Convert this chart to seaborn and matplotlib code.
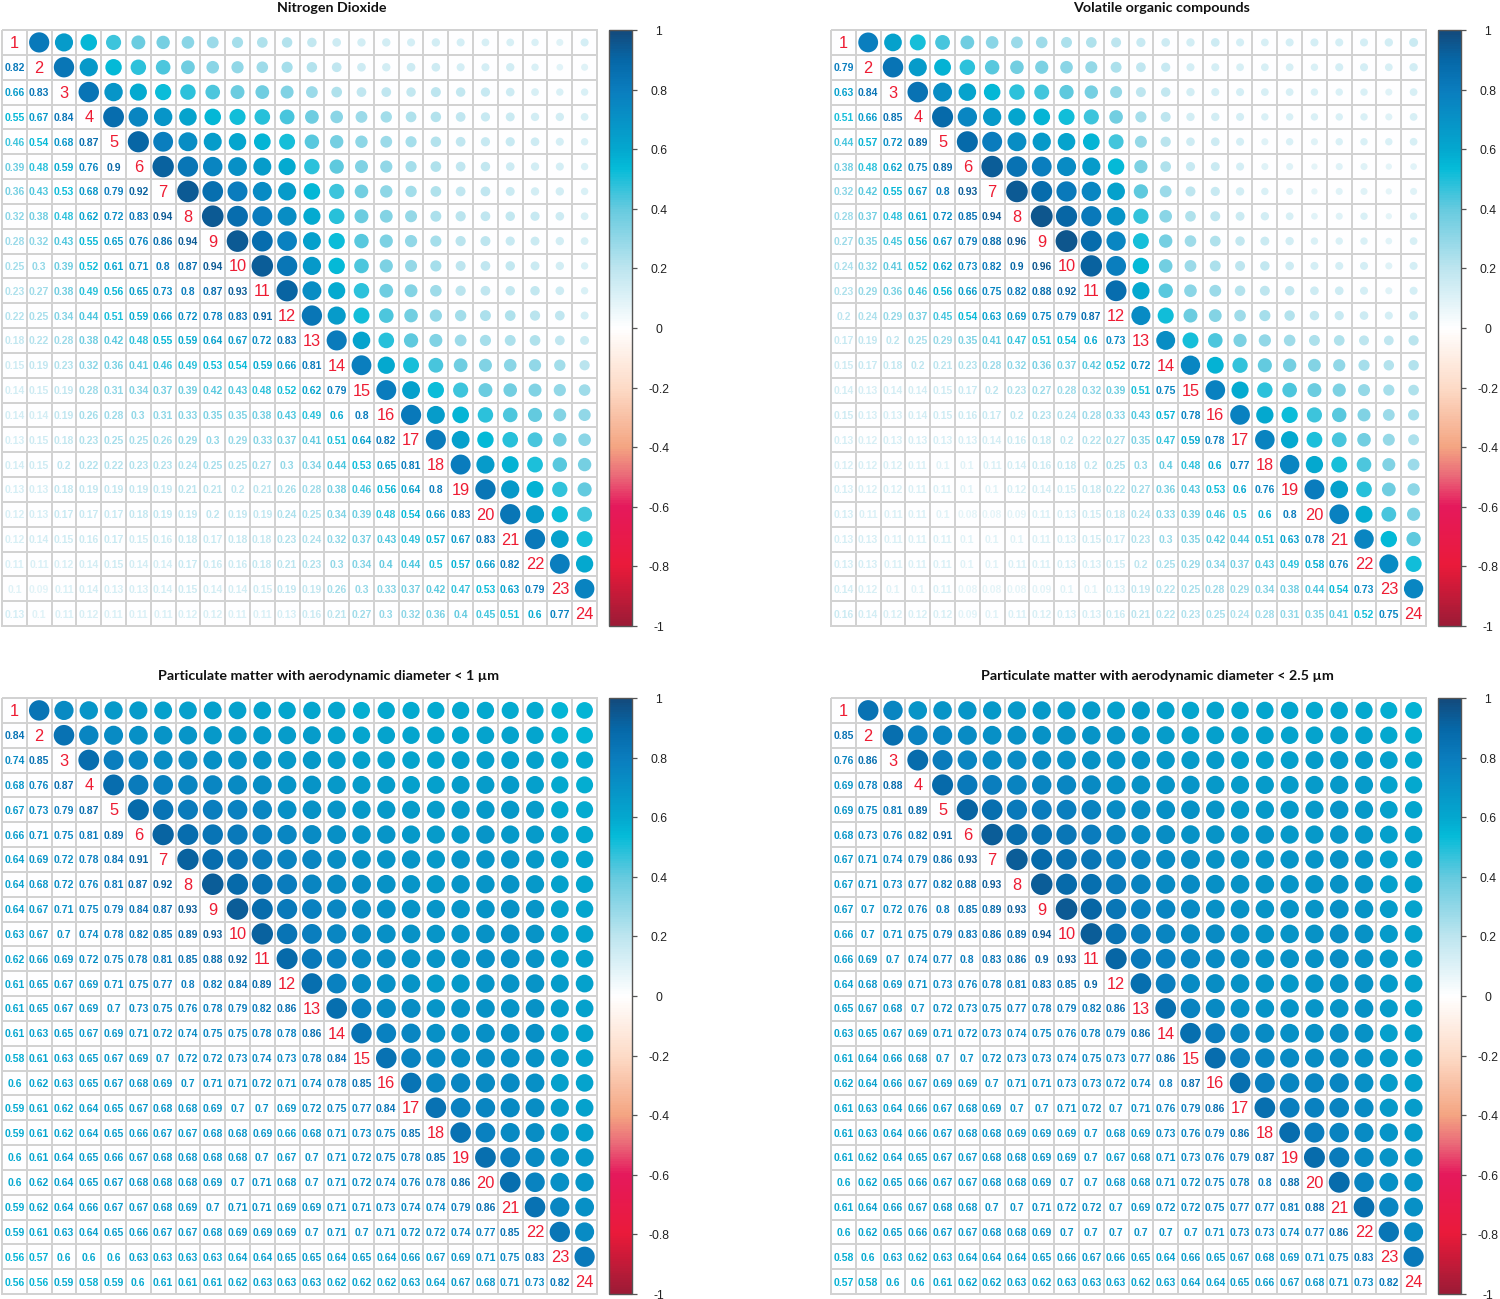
import numpy as np
import pandas as pd
import seaborn as sns
import matplotlib.pyplot as plt
from matplotlib.colors import LinearSegmentedColormap
from matplotlib.transforms import ScaledTranslation

titles = ['Nitrogen Dioxide', 'Volatile organic compounds',
          'Particulate matter with aerodynamic diameter < 1 µm',
          'Particulate matter with aerodynamic diameter < 2.5 µm']
cbar_ticks = [-1, -0.8, -0.6, -0.4, -0.2, 0, 0.2, 0.4, 0.6, 0.8, 1]

# lower triangles, one row per line (row 2 to row 24)
no2 = [
    [.82],
    [.66, .83],
    [.55, .67, .84],
    [.46, .54, .68, .87],
    [.39, .48, .59, .76, .9],
    [.36, .43, .53, .68, .79, .92],
    [.32, .38, .48, .62, .72, .83, .94],
    [.28, .32, .43, .55, .65, .76, .86, .94],
    [.25, .3, .39, .52, .61, .71, .8, .87, .94],
    [.23, .27, .38, .49, .56, .65, .73, .8, .87, .93],
    [.22, .25, .34, .44, .51, .59, .66, .72, .78, .83, .91],
    [.18, .22, .28, .38, .42, .48, .55, .59, .64, .67, .72, .83],
    [.15, .19, .23, .32, .36, .41, .46, .49, .53, .54, .59, .66, .81],
    [.14, .15, .19, .28, .31, .34, .37, .39, .42, .43, .48, .52, .62, .79],
    [.14, .14, .19, .26, .28, .3, .31, .33, .35, .35, .38, .43, .49, .6, .8],
    [.13, .15, .18, .23, .25, .25, .26, .29, .3, .29, .33, .37, .41, .51, .64, .82],
    [.14, .15, .2, .22, .22, .23, .23, .24, .25, .25, .27, .3, .34, .44, .53, .65, .81],
    [.13, .13, .18, .19, .19, .19, .19, .21, .21, .2, .21, .26, .28, .38, .46, .56, .64, .8],
    [.12, .13, .17, .17, .17, .18, .19, .19, .2, .19, .19, .24, .25, .34, .39, .48, .54, .66, .83],
    [.12, .14, .15, .16, .17, .15, .16, .18, .17, .18, .18, .23, .24, .32, .37, .43, .49, .57, .67, .83],
    [.11, .11, .12, .14, .15, .14, .14, .17, .16, .16, .18, .21, .23, .3, .34, .4, .44, .5, .57, .66, .82],
    [.1, .09, .11, .14, .13, .13, .14, .15, .14, .14, .15, .19, .19, .26, .3, .33, .37, .42, .47, .53, .63, .79],
    [.13, .1, .11, .12, .11, .11, .11, .12, .12, .11, .11, .13, .16, .21, .27, .3, .32, .36, .4, .45, .51, .6, .77],
]
voc = [
    [.79],
    [.63, .84],
    [.51, .66, .85],
    [.44, .57, .72, .89],
    [.38, .48, .62, .75, .89],
    [.32, .42, .55, .67, .8, .93],
    [.28, .37, .48, .61, .72, .85, .94],
    [.27, .35, .45, .56, .67, .79, .88, .96],
    [.24, .32, .41, .52, .62, .73, .82, .9, .96],
    [.23, .29, .36, .46, .56, .66, .75, .82, .88, .92],
    [.2, .24, .29, .37, .45, .54, .63, .69, .75, .79, .87],
    [.17, .19, .2, .25, .29, .35, .41, .47, .51, .54, .6, .73],
    [.15, .17, .18, .2, .21, .23, .28, .32, .36, .37, .42, .52, .72],
    [.14, .13, .14, .14, .15, .17, .2, .23, .27, .28, .32, .39, .51, .75],
    [.15, .13, .13, .14, .15, .16, .17, .2, .23, .24, .28, .33, .43, .57, .78],
    [.13, .12, .13, .13, .13, .13, .14, .16, .18, .2, .22, .27, .35, .47, .59, .78],
    [.12, .12, .12, .11, .1, .1, .11, .14, .16, .18, .2, .25, .3, .4, .48, .6, .77],
    [.13, .12, .12, .11, .11, .1, .1, .12, .14, .15, .18, .22, .27, .36, .43, .53, .6, .76],
    [.13, .11, .11, .11, .1, .08, .08, .09, .11, .13, .15, .18, .24, .33, .39, .46, .5, .6, .8],
    [.13, .13, .11, .11, .11, .1, .1, .1, .11, .13, .15, .17, .23, .3, .35, .42, .44, .51, .63, .78],
    [.13, .13, .11, .11, .11, .1, .1, .11, .11, .13, .13, .15, .2, .25, .29, .34, .37, .43, .49, .58, .76],
    [.14, .12, .1, .1, .11, .08, .08, .08, .09, .1, .1, .13, .19, .22, .25, .28, .29, .34, .38, .44, .54, .73],
    [.16, .14, .12, .12, .12, .09, .1, .11, .12, .13, .13, .16, .21, .22, .23, .25, .24, .28, .31, .35, .41, .52, .75],
]
pm1 = [
    [.84],
    [.74, .85],
    [.68, .76, .87],
    [.67, .73, .79, .87],
    [.66, .71, .75, .81, .89],
    [.64, .69, .72, .78, .84, .91],
    [.64, .68, .72, .76, .81, .87, .92],
    [.64, .67, .71, .75, .79, .84, .87, .93],
    [.63, .67, .7, .74, .78, .82, .85, .89, .93],
    [.62, .66, .69, .72, .75, .78, .81, .85, .88, .92],
    [.61, .65, .67, .69, .71, .75, .77, .8, .82, .84, .89],
    [.61, .65, .67, .69, .7, .73, .75, .76, .78, .79, .82, .86],
    [.61, .63, .65, .67, .69, .71, .72, .74, .75, .75, .78, .78, .86],
    [.58, .61, .63, .65, .67, .69, .7, .72, .72, .73, .74, .73, .78, .84],
    [.6, .62, .63, .65, .67, .68, .69, .7, .71, .71, .72, .71, .74, .78, .85],
    [.59, .61, .62, .64, .65, .67, .68, .68, .69, .7, .7, .69, .72, .75, .77, .84],
    [.59, .61, .62, .64, .65, .66, .67, .67, .68, .68, .69, .66, .68, .71, .73, .75, .85],
    [.6, .61, .64, .65, .66, .67, .68, .68, .68, .68, .7, .67, .7, .71, .72, .75, .78, .85],
    [.6, .62, .64, .65, .67, .68, .68, .68, .69, .7, .71, .68, .7, .71, .72, .74, .76, .78, .86],
    [.59, .62, .64, .66, .67, .67, .68, .69, .7, .71, .71, .69, .69, .71, .71, .73, .74, .74, .79, .86],
    [.59, .61, .63, .64, .65, .66, .67, .67, .68, .69, .69, .69, .7, .71, .7, .71, .72, .72, .74, .77, .85],
    [.56, .57, .6, .6, .6, .63, .63, .63, .63, .64, .64, .65, .65, .64, .65, .64, .66, .67, .69, .71, .75, .83],
    [.56, .56, .59, .58, .59, .6, .61, .61, .61, .62, .63, .63, .63, .62, .62, .62, .63, .64, .67, .68, .71, .73, .82],
]
pm25 = [
    [.85],
    [.76, .86],
    [.69, .78, .88],
    [.69, .75, .81, .89],
    [.68, .73, .76, .82, .91],
    [.67, .71, .74, .79, .86, .93],
    [.67, .71, .73, .77, .82, .88, .93],
    [.67, .7, .72, .76, .8, .85, .89, .93],
    [.66, .7, .71, .75, .79, .83, .86, .89, .94],
    [.66, .69, .7, .74, .77, .8, .83, .86, .9, .93],
    [.64, .68, .69, .71, .73, .76, .78, .81, .83, .85, .9],
    [.65, .67, .68, .7, .72, .73, .75, .77, .78, .79, .82, .86],
    [.63, .65, .67, .69, .71, .72, .73, .74, .75, .76, .78, .79, .86],
    [.61, .64, .66, .68, .7, .7, .72, .73, .73, .74, .75, .73, .77, .86],
    [.62, .64, .66, .67, .69, .69, .7, .71, .71, .73, .73, .72, .74, .8, .87],
    [.61, .63, .64, .66, .67, .68, .69, .7, .7, .71, .72, .7, .71, .76, .79, .86],
    [.61, .63, .64, .66, .67, .68, .68, .69, .69, .69, .7, .68, .69, .73, .76, .79, .86],
    [.61, .62, .64, .65, .67, .67, .68, .68, .69, .69, .7, .67, .68, .71, .73, .76, .79, .87],
    [.6, .62, .65, .66, .67, .67, .68, .68, .69, .7, .7, .68, .68, .71, .72, .75, .78, .8, .88],
    [.61, .64, .66, .67, .68, .68, .7, .7, .71, .72, .72, .7, .69, .72, .72, .75, .77, .77, .81, .88],
    [.6, .62, .65, .66, .67, .67, .68, .68, .69, .7, .7, .7, .7, .7, .7, .71, .73, .73, .74, .77, .86],
    [.58, .6, .63, .62, .63, .64, .64, .64, .65, .66, .67, .66, .65, .64, .66, .65, .67, .68, .69, .71, .75, .83],
    [.57, .58, .6, .6, .61, .62, .62, .63, .62, .63, .63, .63, .62, .63, .64, .64, .65, .66, .67, .68, .71, .73, .82],
]

sns.set_theme(style='white')
plt.rcParams['font.family'] = ['Liberation Sans', 'DejaVu Sans']

cmap = LinearSegmentedColormap.from_list('corr', [
    (0.0, '#9C1B36'), (0.1, '#EA1A3A'), (0.2, '#E5195C'), (0.25, '#EA6878'),
    (0.3, '#F4A582'), (0.4, '#FDDBC7'), (0.5, '#FFFFFF'), (0.6, '#BDE5EF'),
    (0.7, '#66CADF'), (0.77, '#04BBD8'), (0.8, '#04A8CF'), (0.9, '#0A7DBE'),
    (0.95, '#0668A8'), (1.0, '#134A7C'),
], N=256)

W, H = 1500, 1299
fig = plt.figure(figsize=(15, 12.99), dpi=100)
one_px_down = ScaledTranslation(0, -1 / 100, fig.dpi_scale_trans)
half_px_down = ScaledTranslation(0, -0.5 / 100, fig.dpi_scale_trans)


def px_axes(x0, y0, x1, y1):
    return fig.add_axes([x0 / W, 1 - y1 / H, (x1 - x0) / W, (y1 - y0) / H])


def draw_panel(rows, title, left, top, title_x):
    n = len(rows) + 1
    ax = px_axes(left, top, left + 595, top + 596)
    cax = px_axes(left + 607, top, left + 630, top + 596)

    labels = np.full((n, n), '', dtype=object)
    records = []
    for i in range(n):
        labels[i, i] = str(i + 1)
    for i, row in enumerate(rows, start=1):
        for j, v in enumerate(row):
            labels[i, j] = f'{v:g}'
            records.append((i + 0.5, j + 0.5, v))

    # white cells and grey grid; zero sits on white in the colour scale
    sns.heatmap(np.zeros((n, n)), ax=ax, cbar_ax=cax, cmap=cmap, vmin=-1, vmax=1,
                linewidths=1.1, linecolor='#D2D2D2', square=False,
                xticklabels=False, yticklabels=False,
                annot=labels, fmt='', annot_kws={'size': 7.5, 'weight': 'bold'},
                cbar_kws={'ticks': cbar_ticks})
    ax.collections[0].set_clip_on(False)

    upper = pd.DataFrame(records, columns=['x', 'y', 'r'])
    sizes = {v: (0.9 * np.sqrt(v) * 24.8 * 72 / 100) ** 2 for v in upper['r'].unique()}
    sns.scatterplot(data=upper, x='x', y='y', hue='r', size='r', sizes=sizes,
                    palette=cmap, hue_norm=(-1, 1), linewidth=0, legend=False, ax=ax)
    ax.set_xlim(0, n)
    ax.set_ylim(n, 0)
    ax.set_xlabel('')
    ax.set_ylabel('')

    k = 0
    for t in ax.texts:
        i, j = k // n, k % n
        k += 1
        t.set_transform(t.get_transform() + one_px_down)
        if i == j:
            t.set_color('#EE1C33')
            t.set_fontsize(11.8)
            t.set_fontweight('normal')
        elif i > j:
            t.set_color(cmap((float(labels[i, j]) + 1) / 2))

    cbar = ax.collections[0].colorbar
    cbar.outline.set_edgecolor('#555555')
    cbar.outline.set_linewidth(1.0)
    cax.tick_params(length=3.6, width=0.9, color='#555555', pad=15.5, right=True)
    cax.set_yticks(cbar_ticks)
    cax.set_yticklabels([f'{v:g}' for v in cbar_ticks], fontsize=8.8, ha='center', color='#222222')
    for lab in cax.get_yticklabels():
        lab.set_transform(lab.get_transform() + half_px_down)

    fig.text(title_x / W, 1 - (top - 22) / H, title, family='Lato', weight='bold',
             fontsize=10.3, ha='center', va='center', color='#111111')


draw_panel(no2, titles[0], 2, 30, 331.5)
draw_panel(voc, titles[1], 831, 30, 1162)
draw_panel(pm1, titles[2], 2, 698, 328.5)
draw_panel(pm25, titles[3], 831, 698, 1157.5)

fig.savefig('out.png', dpi=100)
